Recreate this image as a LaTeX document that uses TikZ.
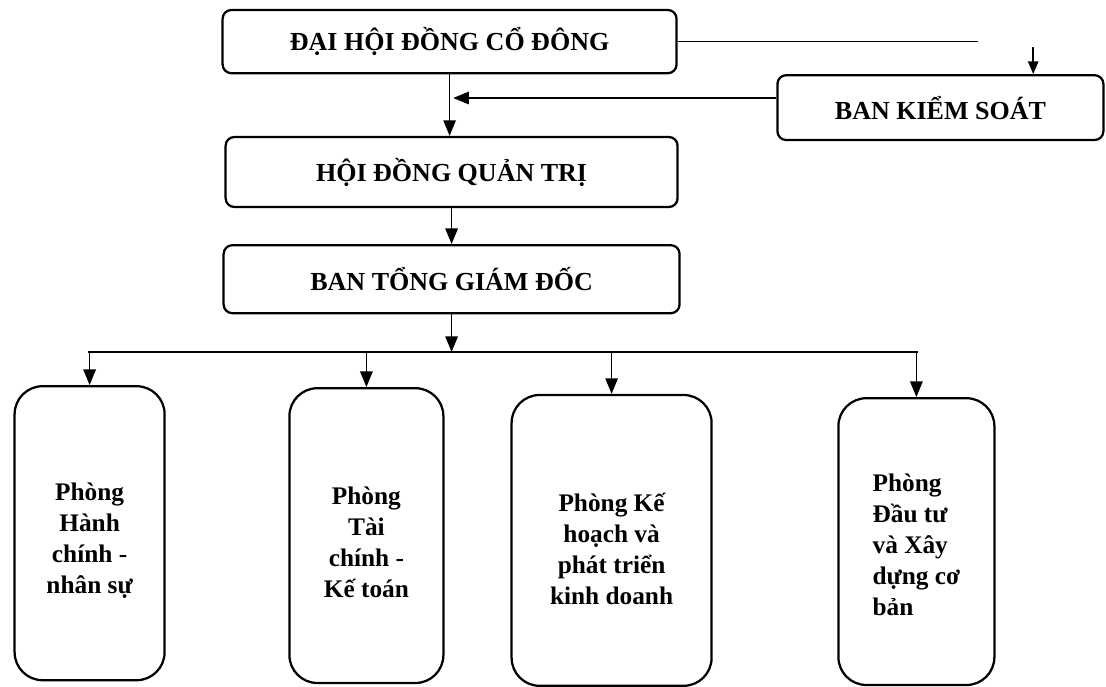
\documentclass[tikz,border=0pt]{standalone}
\usepackage{fontspec}
\setmainfont{Liberation Serif}
\usetikzlibrary{arrows.meta}

\tikzset{
	boxtop/.style={draw, line width=1.6pt, rounded corners=0.22cm, inner sep=0pt, font=\bfseries\fontsize{18.5}{22}\selectfont},
	boxdept/.style={draw, line width=1.6pt, rounded corners=0.7cm, inner sep=0pt},
	depttext/.style={inner sep=0pt, align=center, font=\bfseries\fontsize{18}{22}\selectfont},
	link/.style={line width=1.2pt, -{Triangle[length=3.9mm, width=3.1mm]}}
}

\begin{document}
\begin{tikzpicture}
			\useasboundingbox (0,0) rectangle (27.65,-17.175);

			\node[boxtop, minimum width=11.35cm, minimum height=1.58cm] (dhd) at ( 11.24, -1.04 ) { ĐẠI HỘI ĐỒNG CỔ ĐÔNG };
			\node[boxtop, minimum width=8.15cm, minimum height=1.62cm] (bks) at ( 23.51, -2.69 ) { BAN KIỂM SOÁT };
			\node[boxtop, minimum width=11.3cm, minimum height=1.75cm] (hdqt) at ( 11.29, -4.30 ) { HỘI ĐỒNG QUẢN TRỊ };
			\node[boxtop, minimum width=11.4cm, minimum height=1.7cm] (btgd) at ( 11.29, -6.98 ) { BAN TỔNG GIÁM ĐỐC };

			\node[boxdept, minimum width=3.75cm, minimum height=7.35cm] (p1) at ( 2.24, -13.33 ) {};
			\node[boxdept, minimum width=3.85cm, minimum height=7.37cm] (p2) at ( 9.16, -13.39 ) {};
			\node[boxdept, minimum width=5.0cm, minimum height=7.27cm] (p3) at ( 15.29, -13.51 ) {};
			\node[boxdept, minimum width=3.9cm, minimum height=7.17cm] (p4) at ( 22.91, -13.54 ) {};

			\node[depttext] (t1) at ([yshift=-0.19cm]p1.center) { Phòng\\Hành\\chính -\\nhân sự };
			\node[depttext] (t2) at ([yshift=-0.17cm]p2.center) { Phòng\\Tài\\chính -\\Kế toán };
			\node[depttext] (t3) at ([yshift=-0.22cm]p3.center) { Phòng Kế\\hoạch và\\phát triển\\kinh doanh };
			\node[depttext, align=left] (t4) at ([yshift=-0.08cm]p4.center) { Phòng\\Đầu tư\\và Xây\\dựng cơ\\bản };

			\coordinate (dhdend) at ( 24.45, -1.0 );
			\coordinate (bksin) at ( 25.83, -1.18 );
			\coordinate (kin) at ( 11.33, -2.45 );
			\coordinate (busL) at ( 2.2, -8.8 );
			\coordinate (busR) at ( 22.95, -8.8 );

			\draw[line width=1.1pt](dhd.east) -- (dhd.east -| dhdend);
			\draw[link, -{Triangle[length=3.2mm, width=2.6mm]}](bksin) -- (bksin |- bks.north);
			\draw[link](dhd.south) -- (dhd.south |- hdqt.north);
			\draw[link](bks.west |- kin) -- (kin);
			\draw[link](hdqt.south) -- (hdqt.south |- btgd.north);
			\draw[link](btgd.south) -- (btgd.south |- busL);
			\draw[line width=1.1pt](busL) -- (busR);
			\foreach \p in {p1, p2, p3, p4}
				\draw[link](\p.north |- busL) -- (\p.north);
		\end{tikzpicture}
\end{document}
